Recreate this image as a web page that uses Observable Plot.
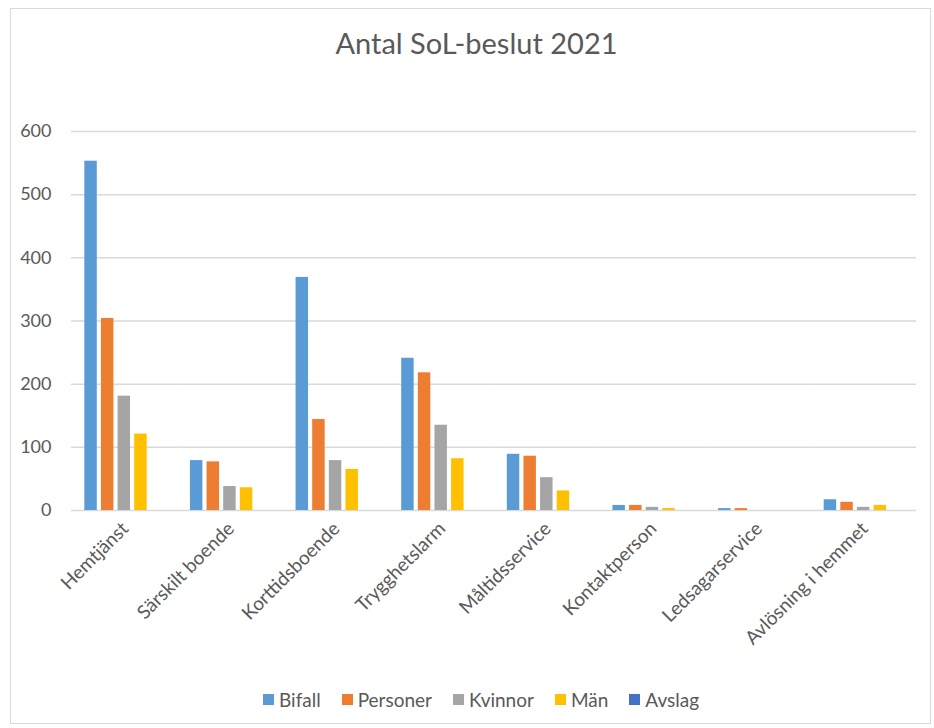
<!DOCTYPE html>
<html>
<head>
<meta charset="utf-8">
<script src="https://cdn.jsdelivr.net/npm/d3@7"></script>
<script src="https://cdn.jsdelivr.net/npm/@observablehq/plot@0.6"></script>
<style>
  html, body { margin: 0; padding: 0; background: #fff; }
  #frame { position: relative; width: 934px; height: 728px; font-family: Lato, "Open Sans", sans-serif; color: #595959; overflow: hidden; }
  #border { position: absolute; left: 10px; top: 8px; width: 921px; height: 716px; border: 1px solid #d9d9d9; box-sizing: border-box; }
  #title { position: absolute; top: 25px; left: 16px; width: 921px; text-align: center; font-size: 29px; }
  #chart { position: absolute; left: 0; top: 0; }
  #legend { position: absolute; top: 688px; left: 263px; display: flex; align-items: center; font-size: 19px; }
  .item { display: flex; align-items: center; margin-right: 21px; }
  .sw { width: 11px; height: 11px; margin-right: 5px; }
</style>
</head>
<body>
<div id="frame">
  <div id="border"></div>
  <div id="title">Antal SoL-beslut 2021</div>
  <div id="chart"></div>
  <div id="legend"></div>
</div>
<script>
const categories = ["Hemtjänst", "Särskilt boende", "Korttidsboende", "Trygghetslarm", "Måltidsservice", "Kontaktperson", "Ledsagarservice", "Avlösning i hemmet"];
const series = ["Bifall", "Personer", "Kvinnor", "Män", "Avslag"];
const colors = ["#5B9BD5", "#ED7D31", "#A5A5A5", "#FFC000", "#4472C4"];
const bifall   = [553, 79, 369, 241, 89, 8, 3, 17];
const personer = [304, 77, 144, 218, 86, 8, 3, 13];
const kvinnor  = [181, 38, 79, 135, 52, 5, 0, 5];
const man      = [121, 36, 65, 82, 31, 3, 0, 8];
const avslag   = [0, 0, 0, 0, 0, 0, 0, 0];
const yTicks = [0, 100, 200, 300, 400, 500, 600];

const valuesBySeries = [bifall, personer, kvinnor, man, avslag];
const rows = [];
categories.forEach((c, i) => {
  series.forEach((s, j) => rows.push({cat: c, series: s, value: valuesBySeries[j][i]}));
});

const chart = Plot.plot({
  width: 934,
  height: 660,
  marginLeft: 71,
  marginRight: 18,
  marginTop: 131,
  marginBottom: 150,
  style: {fontFamily: "Lato, 'Open Sans', sans-serif", fontSize: "18px", color: "#595959", background: "transparent"},
  fx: {domain: categories, padding: 0, round: false},
  x: {domain: series, paddingInner: 0.25, paddingOuter: 0.8, round: false, axis: null},
  y: {domain: [0, 600]},
  color: {domain: series, range: colors},
  marks: [
    Plot.ruleY(yTicks, {stroke: "#d9d9d9", strokeWidth: 1.5, strokeOpacity: 1}),
    Plot.barY(rows, {fx: "cat", x: "series", y: "value", fill: "series"}),
    Plot.axisY({ticks: yTicks, tickSize: 0, tickPadding: 20, fontSize: 18, label: null}),
    Plot.axisFx({anchor: "bottom", tickRotate: -45, tickSize: 0, tickPadding: 15, dx: 1, fontSize: 19, label: null})
  ]
});
document.getElementById("chart").appendChild(chart);

const legend = document.getElementById("legend");
series.forEach((s, j) => {
  const it = document.createElement("div");
  it.className = "item";
  const sw = document.createElement("div");
  sw.className = "sw";
  sw.style.background = colors[j];
  const t = document.createElement("span");
  t.textContent = s;
  it.appendChild(sw);
  it.appendChild(t);
  legend.appendChild(it);
});
</script>
</body>
</html>
